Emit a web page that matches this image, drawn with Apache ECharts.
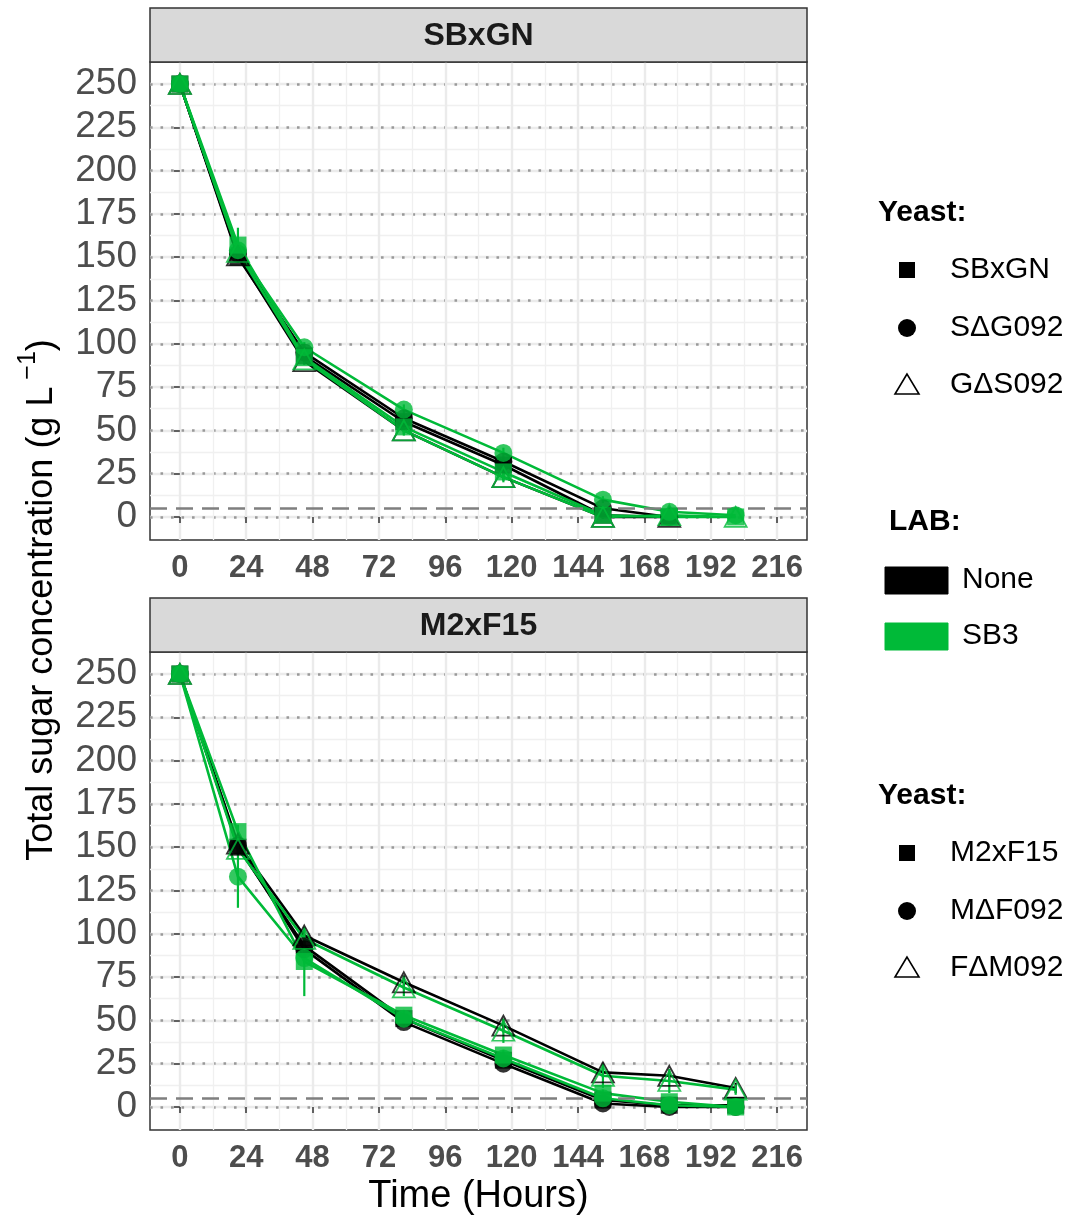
<!DOCTYPE html>
<html>
<head>
<meta charset="utf-8">
<script src="https://cdn.jsdelivr.net/npm/echarts@6/dist/echarts.min.js"></script>
<style>
  html, body { margin: 0; padding: 0; background: #ffffff; }
  #chart { width: 1075px; height: 1220px; }
</style>
</head>
<body>
<div id="chart"></div>
<script>
// Sampling times (hours) and axis breaks
const hours = [0, 21, 45, 81, 117, 153, 177, 201];
const hourTicks = [0, 24, 48, 72, 96, 120, 144, 168, 192, 216];
const hourMinorTicks = [12, 36, 60, 84, 108, 132, 156, 180, 204];
const sugarTicks = [0, 25, 50, 75, 100, 125, 150, 175, 200, 225, 250];
const sugarMinorTicks = [12.5, 37.5, 62.5, 87.5, 112.5, 137.5, 162.5, 187.5, 212.5, 237.5];
const dryThreshold = 5;

const panelNames = ['SBxGN', 'M2xF15'];
const labNames = ['None', 'SB3'];
const labColors = ['#000000', '#00BA38'];
const yeastTop = ['SBxGN', 'S\u0394G092', 'G\u0394S092'];
const yeastBottom = ['M2xF15', 'M\u0394F092', 'F\u0394M092'];

// Total sugar (g/L), panel SBxGN — mean values
const sbxgnNone = [250, 150, 93, 55, 30, 1, 0, null];
const sbxgnSB3  = [250, 157, 92, 52, 26, 1, 0, 0];
const sdgNone   = [250, 152, 95, 57, 32, 5, 0, null];
const sdgSB3    = [250, 154, 98, 62, 37, 10, 3, 1];
const gdsNone   = [250, 151, 90, 50, 23, 0, 0, null];
const gdsSB3    = [250, 153, 91, 50, 23, 0, 1, 0];
// standard deviations
const sbxgnNoneSd = [1, 3, 2, 2, 2, 1, 0, null];
const sbxgnSB3Sd  = [1, 10, 3, 2, 2, 1, 0, 0];
const sdgNoneSd   = [1, 3, 2, 2, 2, 1, 0, null];
const sdgSB3Sd    = [1, 4, 3, 3, 3, 2, 1, 0];
const gdsNoneSd   = [1, 3, 2, 2, 2, 1, 0, null];
const gdsSB3Sd    = [1, 4, 3, 3, 3, 1, 1, 0];

// Total sugar (g/L), panel M2xF15 — mean values
const m2None  = [250, 150, 93, 51, 27, 4, 1, 1];
const m2SB3   = [250, 159, 84, 53, 30, 8, 3, 0];
const mdfNone = [250, 151, 91, 49, 25, 2, 0, 0];
const mdfSB3  = [250, 133, 86, 51, 28, 5, 1, 0];
const fdmNone = [250, 152, 99, 72, 47, 20, 18, 11];
const fdmSB3  = [250, 149, 97, 69, 44, 18, 15, 10];
// standard deviations
const m2NoneSd  = [1, 3, 3, 2, 2, 1, 1, 1];
const m2SB3Sd   = [1, 4, 20, 3, 3, 2, 2, 1];
const mdfNoneSd = [1, 3, 3, 2, 2, 1, 0, 0];
const mdfSB3Sd  = [1, 18, 3, 3, 3, 2, 1, 0];
const fdmNoneSd = [1, 3, 3, 4, 4, 3, 3, 3];
const fdmSB3Sd  = [1, 3, 3, 5, 7, 7, 7, 3];

const panels = [
  { yeasts: yeastTop, values: [[sbxgnNone, sbxgnSB3], [sdgNone, sdgSB3], [gdsNone, gdsSB3]],
    sds: [[sbxgnNoneSd, sbxgnSB3Sd], [sdgNoneSd, sdgSB3Sd], [gdsNoneSd, gdsSB3Sd]] },
  { yeasts: yeastBottom, values: [[m2None, m2SB3], [mdfNone, mdfSB3], [fdmNone, fdmSB3]],
    sds: [[m2NoneSd, m2SB3Sd], [mdfNoneSd, mdfSB3Sd], [fdmNoneSd, fdmSB3Sd]] }
];

const FONT = "'Liberation Sans', Arial, sans-serif";

const xMin = -10.8, xMax = 226.8;
const yMin = -13.3, yMax = 262.7;

const gridLeft = 150, gridWidth = 657, gridHeight = 478;
const gridTops = [62, 652];
const stripTops = [8, 598];

const symbols = ['rect', 'circle', 'triangle'];
const symbolSizes = [17, 18, [22, 20]];

const grids = [], xAxes = [], yAxes = [], series = [];

gridTops.forEach((top, g) => {
  grids.push({ left: gridLeft, top: top, width: gridWidth, height: gridHeight,
    show: true, borderColor: '#333333', borderWidth: 1.5, backgroundColor: '#ffffff' });

  // main x axis with labels and major grid
  xAxes.push({
    gridIndex: g, type: 'value', min: xMin, max: xMax,
    axisLine: { show: false },
    axisTick: { show: true, customValues: hourTicks, length: 6, lineStyle: { color: '#333333', width: 1.5 } },
    axisLabel: { customValues: hourTicks, fontSize: 31, fontWeight: 'bold', fontFamily: FONT, color: '#4d4d4d', margin: 13 },
    splitLine: { show: true, lineStyle: { color: '#ebebeb', width: 2.4 } }
  });
  // minor vertical grid
  xAxes.push({
    gridIndex: g, type: 'value', min: xMin, max: xMax,
    axisLine: { show: false },
    axisTick: { show: false, customValues: hourMinorTicks },
    axisLabel: { show: false },
    splitLine: { show: true, lineStyle: { color: '#f0f0f0', width: 1.3 } }
  });

  // main y axis with labels and major grid
  yAxes.push({
    gridIndex: g, type: 'value', min: yMin, max: yMax,
    axisLine: { show: false },
    axisTick: { show: true, customValues: sugarTicks, length: 6, lineStyle: { color: '#333333', width: 1.5 } },
    axisLabel: { customValues: sugarTicks, fontSize: 37, fontFamily: FONT, color: '#4d4d4d', margin: 13 },
    splitLine: { show: true, lineStyle: { color: '#ebebeb', width: 2.4 } }
  });
  // minor horizontal grid
  yAxes.push({
    gridIndex: g, type: 'value', min: yMin, max: yMax,
    axisLine: { show: false },
    axisTick: { show: false, customValues: sugarMinorTicks },
    axisLabel: { show: false },
    splitLine: { show: true, lineStyle: { color: '#f0f0f0', width: 1.3 } }
  });
  // dotted reference lines at each major break
  yAxes.push({
    gridIndex: g, type: 'value', min: yMin, max: yMax,
    axisLine: { show: false },
    axisTick: { show: false, customValues: sugarTicks },
    axisLabel: { show: false },
    splitLine: { show: true, lineStyle: { color: '#999999', width: 2.6, type: [2.6, 7.9] } }
  });
});

panels.forEach((panel, g) => {
  const xi = g * 2, yi = g * 3;
  // dashed line at the dryness threshold
  series.push({
    type: 'line', xAxisIndex: xi, yAxisIndex: yi, data: [], silent: true,
    markLine: {
      silent: true, symbol: ['none', 'none'], label: { show: false },
      lineStyle: { color: '#7f7f7f', width: 2.6, type: [17, 9] },
      data: [{ yAxis: dryThreshold }]
    },
    z: 1
  });
  // lines and error bars
  panel.values.forEach((pair, yIdx) => {
    pair.forEach((vals, labIdx) => {
      const color = labColors[labIdx];
      const sd = panel.sds[yIdx][labIdx];
      const pts = [];
      const bars = [];
      hours.forEach((h, k) => {
        if (vals[k] === null) return;
        pts.push([h, vals[k]]);
        bars.push([h, vals[k] - sd[k], vals[k] + sd[k]]);
      });
      series.push({
        name: panel.yeasts[yIdx] + ' / ' + labNames[labIdx],
        type: 'line', xAxisIndex: xi, yAxisIndex: yi,
        data: pts, symbol: 'none',
        lineStyle: { color: color, width: 2.6 },
        z: 2 + labIdx * 0.1
      });
      series.push({
        type: 'custom', xAxisIndex: xi, yAxisIndex: yi,
        data: bars, encode: { x: 0, y: [1, 2] },
        renderItem: (params, api) => {
          const a = api.coord([api.value(0), api.value(1)]);
          const b = api.coord([api.value(0), api.value(2)]);
          return { type: 'line', shape: { x1: a[0], y1: a[1], x2: b[0], y2: b[1] },
                   style: { stroke: color, lineWidth: 2.2 } };
        },
        z: 2 + labIdx * 0.1
      });
    });
  });
  // points on top of all lines
  panel.values.forEach((pair, yIdx) => {
    pair.forEach((vals, labIdx) => {
      const color = labColors[labIdx];
      const open = symbols[yIdx] === 'triangle';
      series.push({
        type: 'scatter', xAxisIndex: xi, yAxisIndex: yi,
        data: hours.map((h, k) => vals[k] === null ? null : [h, vals[k]]).filter(Boolean),
        symbol: symbols[yIdx], symbolSize: symbolSizes[yIdx],
        itemStyle: open
          ? { color: 'rgba(255,255,255,0)', borderColor: color, borderWidth: 1.8 }
          : { color: color },
        z: 5 + labIdx * 0.1
      });
    });
  });
});

// facet strips, axis titles and legends
const graphics = [];
stripTops.forEach((top, g) => {
  graphics.push({ type: 'rect', shape: { x: gridLeft, y: top, width: gridWidth, height: 54 },
    style: { fill: '#d9d9d9', stroke: '#333333', lineWidth: 1.5 }, z: 10 });
  graphics.push({ type: 'text', x: gridLeft + gridWidth / 2, y: top + 28,
    style: { text: panelNames[g], font: "bold 32px " + FONT, fill: '#1a1a1a', align: 'center', verticalAlign: 'middle' }, z: 11 });
});

graphics.push({
  type: 'text', x: 38, y: 600, rotation: Math.PI / 2,
  style: {
    text: '{a|Total sugar concentration (g L}{s| \u22121}{a|)}',
    align: 'center', verticalAlign: 'middle',
    rich: {
      a: { fontSize: 36, fontFamily: FONT, fill: '#000000', lineHeight: 44, verticalAlign: 'bottom' },
      s: { fontSize: 25, fontFamily: FONT, fill: '#000000', lineHeight: 44, verticalAlign: 'top' }
    }
  }
});
graphics.push({
  type: 'text', x: gridLeft + gridWidth / 2, y: 1197,
  style: { text: 'Time (Hours)', font: '38px ' + FONT, fill: '#000000', align: 'center', verticalAlign: 'middle' }
});

function legendBlock(title, names, top) {
  graphics.push({ type: 'text', x: 878, y: top,
    style: { text: title, font: 'bold 30px ' + FONT, fill: '#000000', align: 'left', verticalAlign: 'middle' } });
  const rowY = [top + 57, top + 115, top + 172];
  names.forEach((name, i) => {
    const y = rowY[i];
    if (i === 0) {
      graphics.push({ type: 'rect', shape: { x: 899, y: y - 8, width: 16, height: 16 }, style: { fill: '#000000' } });
    } else if (i === 1) {
      graphics.push({ type: 'circle', shape: { cx: 907, cy: y, r: 9 }, style: { fill: '#000000' } });
    } else {
      graphics.push({ type: 'polygon', shape: { points: [[907, y - 11], [895, y + 9], [919, y + 9]] },
        style: { fill: 'none', stroke: '#000000', lineWidth: 1.6 } });
    }
    graphics.push({ type: 'text', x: 950, y: y,
      style: { text: name, font: '30px ' + FONT, fill: '#000000', align: 'left', verticalAlign: 'middle' } });
  });
}
legendBlock('Yeast:', yeastTop, 213);
legendBlock('Yeast:', yeastBottom, 796);

graphics.push({ type: 'text', x: 889, y: 522,
  style: { text: 'LAB:', font: 'bold 30px ' + FONT, fill: '#000000', align: 'left', verticalAlign: 'middle' } });
labNames.forEach((name, i) => {
  const y = 580 + i * 56;
  graphics.push({ type: 'rect', shape: { x: 885, y: y - 13, width: 63, height: 27 },
    style: { fill: labColors[i], stroke: labColors[i], lineWidth: 1 } });
  graphics.push({ type: 'text', x: 962, y: y,
    style: { text: name, font: '30px ' + FONT, fill: '#000000', align: 'left', verticalAlign: 'middle' } });
});

const chart = echarts.init(document.getElementById('chart'), null, { renderer: 'canvas' });
chart.setOption({
  animation: false,
  backgroundColor: '#ffffff',
  grid: grids,
  xAxis: xAxes,
  yAxis: yAxes,
  series: series,
  graphic: { elements: graphics }
});
</script>
</body>
</html>
